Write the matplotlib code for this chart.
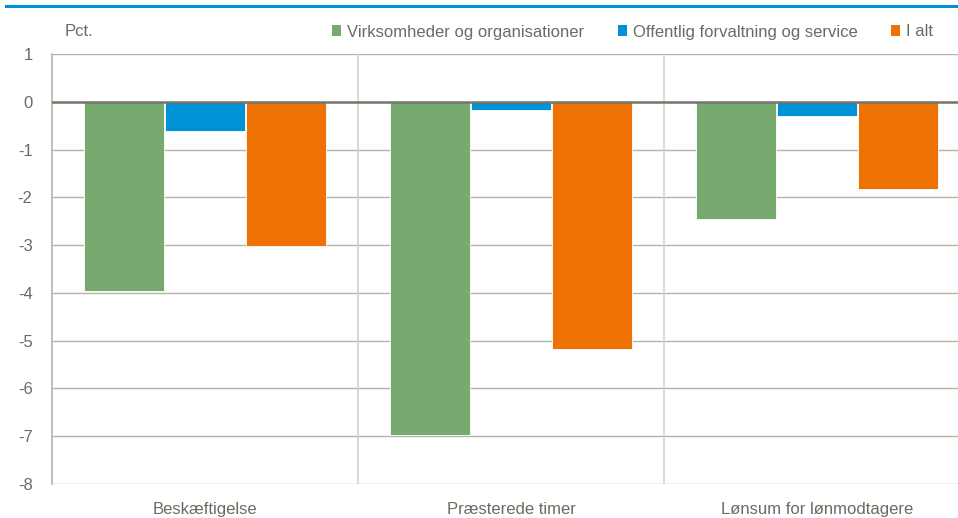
import matplotlib
matplotlib.use("Agg")
import matplotlib.pyplot as plt
from matplotlib import font_manager
from matplotlib.patches import Patch
from matplotlib.lines import Line2D
import numpy as np

categories = ["Beskæftigelse", "Præsterede timer", "Lønsum for lønmodtagere"]
series_names = ["Virksomheder og organisationer", "Offentlig forvaltning og service", "I alt"]
virksomheder = [-3.96, -6.97, -2.45]
offentlig = [-0.61, -0.17, -0.29]
i_alt = [-3.02, -5.17, -1.82]
yticks = [1, 0, -1, -2, -3, -4, -5, -6, -7, -8]

colors = ["#78aa70", "#0092d6", "#ee7203"]
text_color = "#6b6b60"

names = {f.name for f in font_manager.fontManager.ttflist}
fam = "Liberation Sans Narrow" if "Liberation Sans Narrow" in names else "Liberation Sans"
plt.rcParams["font.family"] = [fam, "DejaVu Sans"]
fs = 14 if fam == "Liberation Sans Narrow" else 12

W, H = 958, 518
fig = plt.figure(figsize=(W / 100, H / 100), dpi=100)
ax = fig.add_axes([52 / W, 1 - 484 / H, 918 / W, 430 / H])

x = np.arange(len(categories)) + 0.5
bw = 0.262
off = 0.264
for vals, c, o in zip([virksomheder, offentlig, i_alt], colors, [-off, 0, off]):
    ax.bar(x + o, vals, width=bw, color=c, edgecolor="white", linewidth=0.6, zorder=3)

ax.set_xlim(0, 3)
ax.set_ylim(-8, 1)
ax.set_yticks(yticks)
ax.set_yticklabels([str(v) for v in yticks])
ax.set_xticks(x)
ax.set_xticklabels(categories)
ax.tick_params(axis="both", length=0, labelsize=fs, colors=text_color)
ax.tick_params(axis="y", pad=14)
ax.tick_params(axis="x", pad=13)

for v in yticks:
    if v != 0:
        ax.axhline(v, color="#b5b3a8", linewidth=1.0, zorder=1)
for b in [1, 2]:
    ax.axvline(b, color="#d4d3cd", linewidth=1.2, zorder=1)
ax.axhline(0, color="#74746a", linewidth=1.8, zorder=4)

for s in ["top", "right", "bottom"]:
    ax.spines[s].set_visible(False)
ax.spines["left"].set_color("#b5b3a8")
ax.spines["left"].set_linewidth(1.2)

fig.text(65 / W, 1 - 32 / H, "Pct.", fontsize=fs, color=text_color, ha="left", va="center")

handles = [Patch(facecolor=c, edgecolor="none") for c in colors]
leg = fig.legend(handles, series_names, loc="center left", bbox_to_anchor=(332 / W, 1 - 32 / H),
                 ncol=3, frameon=False, fontsize=fs, handlelength=0.55, handleheight=0.6,
                 handletextpad=0.36, columnspacing=2.0, borderaxespad=0, borderpad=0)
for t in leg.get_texts():
    t.set_color(text_color)

fig.add_artist(Line2D([6 / W, 1], [1 - 6 / H, 1 - 6 / H], color="#0090d2", linewidth=2.2))

fig.savefig("out.png", dpi=100)
